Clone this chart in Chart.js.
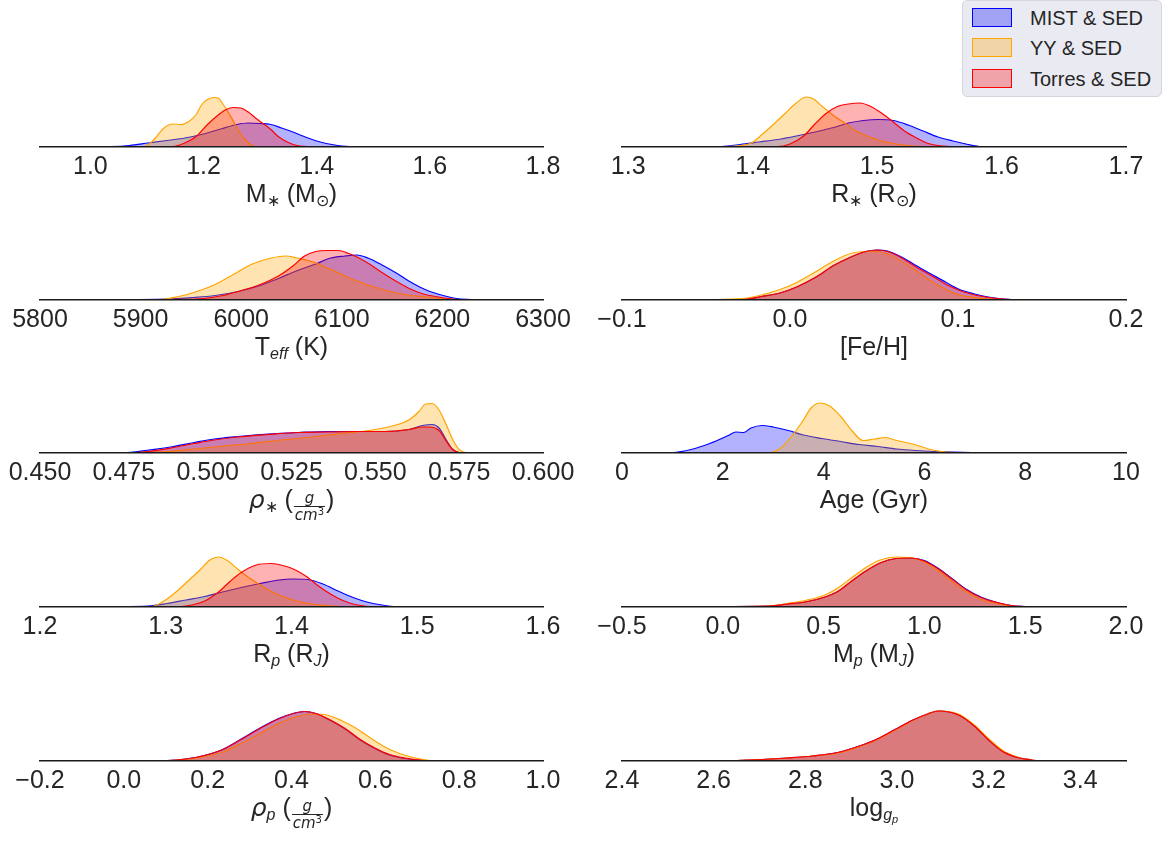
<!DOCTYPE html>
<html>
<head>
<meta charset="utf-8">
<script src="https://cdn.jsdelivr.net/npm/chart.js@4.4.1/dist/chart.umd.min.js"></script>
<style>
  body { margin: 0; background: #fff; width: 1163px; height: 842px; position: relative; overflow: hidden;
         font-family: "Liberation Sans", Arial, sans-serif; color: #262626; }
  canvas { position: absolute; }
  .title { position: absolute; width: 300px; text-align: center; font-size: 25px; line-height: 28px; white-space: nowrap; }
  .title sub { font-size: 16px; vertical-align: -4px; line-height: 0; }
  .mi { font-family: "DejaVu Sans", sans-serif; font-style: italic; }
  .frac { display: inline-block; vertical-align: -12px; text-align: center; font-family: "DejaVu Sans", sans-serif;
          font-style: italic; font-size: 15px; line-height: 16px; margin: 0 1px; }
  .frac span { display: block; padding: 0 1px; }
  .frac span.num { border-bottom: 1.5px solid #262626; }
  .frac sup { font-size: 10px; vertical-align: 5px; line-height: 0; font-style: normal; }
  #legend { position: absolute; left: 962px; top: 0px; width: 200px; height: 97px; background: #eaeaf2;
            border: 1px solid #d6d6de; border-radius: 5px; box-sizing: border-box; }
  .item { position: absolute; left: 9px; height: 20px; font-size: 20px; line-height: 20px; }
  .sw { position: absolute; left: 0; top: 0; width: 40px; height: 19px; box-sizing: border-box; }
  .item span.t { position: absolute; left: 58px; top: 0; white-space: nowrap; }
</style>
</head>
<body>
<div id="legend">
  <div class="item" style="top:7px"><div class="sw" style="background:rgba(0,0,255,0.3);border:1.5px solid blue"></div><span class="t">MIST &amp; SED</span></div>
  <div class="item" style="top:37px"><div class="sw" style="background:rgba(255,165,0,0.3);border:1.5px solid orange"></div><span class="t">YY &amp; SED</span></div>
  <div class="item" style="top:68px"><div class="sw" style="background:rgba(255,0,0,0.3);border:1.5px solid red"></div><span class="t">Torres &amp; SED</span></div>
</div>
<script>
// relative histogram heights (tallest peak of each panel = 100)
const mStarMist = [[0.917,0],[1.036,1],[1.069,3],[1.102,8],[1.135,13],[1.167,18],[1.2,26],[1.233,37],[1.259,45],[1.279,48],[1.299,47],[1.319,45],[1.338,38],[1.358,30],[1.378,21],[1.397,13],[1.417,7],[1.437,3],[1.456,1],[1.47,0],[1.596,0]];
const mStarYY = [[1.06,0],[1.094,1],[1.104,6],[1.115,18],[1.128,36],[1.138,44],[1.148,46],[1.161,45],[1.174,51],[1.187,65],[1.197,85],[1.207,95],[1.22,99],[1.227,97],[1.233,88],[1.243,71],[1.253,51],[1.263,31],[1.273,15],[1.286,3],[1.299,0],[1.36,0]];
const mStarTorres = [[1.031,0],[1.145,1],[1.167,8],[1.187,21],[1.207,45],[1.227,65],[1.24,75],[1.253,79],[1.266,78],[1.279,70],[1.292,58],[1.305,47],[1.319,35],[1.332,21],[1.348,10],[1.365,3],[1.384,1],[1.4,0],[1.524,0]];

const rStarMist = [[1.317,0],[1.36,0.3],[1.375,1],[1.39,5],[1.405,10],[1.42,15],[1.435,22],[1.45,30],[1.465,39],[1.477,48],[1.489,53],[1.501,55],[1.513,53],[1.525,44],[1.537,32],[1.549,20],[1.561,12],[1.573,5],[1.582,1],[1.59,0],[1.65,0]];
const rStarYY = [[1.37,0],[1.381,1],[1.39,3],[1.399,8],[1.408,26],[1.417,46],[1.426,67],[1.435,88],[1.443,100],[1.449,96],[1.456,81],[1.465,63],[1.474,48],[1.483,32],[1.492,22],[1.501,14],[1.513,7],[1.525,3],[1.537,1],[1.549,0],[1.6,0]];
const rStarTorres = [[1.36,0],[1.42,1],[1.429,5],[1.441,22],[1.45,46],[1.459,67],[1.468,81],[1.477,86],[1.486,88],[1.495,81],[1.504,67],[1.513,50],[1.522,32],[1.531,19],[1.54,8],[1.549,3],[1.558,1],[1.57,0],[1.62,0]];

const teffMist = [[5800,0],[5926,2],[5952,5],[5974,9],[5997,17],[6019,29],[6037,43],[6056,59],[6074,72],[6089,84],[6103,88],[6115,90],[6126,84],[6140,70],[6155,53],[6170,34],[6185,19],[6199,10],[6214,3],[6229,1],[6240,0],[6300,0]];
const teffYY = [[5800,0],[5919,1],[5938,7],[5956,17],[5974,31],[5993,52],[6011,72],[6030,84],[6044,88],[6056,84],[6067,79],[6081,68],[6096,55],[6111,41],[6129,28],[6148,17],[6166,10],[6185,6],[6203,2],[6220,0],[6300,0]];
const teffTorres = [[5800,0],[5930,1],[5963,3],[5982,9],[6000,19],[6019,31],[6037,48],[6052,69],[6063,88],[6074,97],[6085,99],[6096,99],[6107,93],[6118,83],[6129,70],[6140,55],[6151,41],[6166,24],[6181,12],[6196,6],[6210,2],[6225,0],[6300,0]];

const fehMist = [[-0.08,0],[-0.028,1],[-0.017,7],[-0.006,14],[0.004,26],[0.015,45],[0.026,69],[0.037,87],[0.045,97],[0.052,100],[0.058,98],[0.067,85],[0.075,69],[0.084,52],[0.093,35],[0.101,21],[0.11,12],[0.118,6],[0.127,2],[0.135,0],[0.2,0]];
const fehYY = [[-0.077,0],[-0.028,3],[-0.017,10],[-0.006,21],[0.004,35],[0.015,56],[0.026,78],[0.037,94],[0.045,97],[0.052,97],[0.058,92],[0.067,76],[0.075,59],[0.084,38],[0.093,21],[0.101,10],[0.11,5],[0.118,2],[0.127,0],[0.2,0]];
const fehTorres = [[-0.07,0],[-0.028,1],[-0.017,7],[-0.006,14],[0.004,26],[0.015,45],[0.026,69],[0.037,87],[0.045,97],[0.052,100],[0.058,97],[0.067,83],[0.075,66],[0.084,49],[0.093,31],[0.101,19],[0.11,10],[0.118,5],[0.127,2],[0.135,0],[0.2,0]];

const rhoStarMist = [[0.45,0],[0.475,0.5],[0.482,5.5],[0.489,12],[0.496,21],[0.502,28],[0.509,33],[0.518,38],[0.527,41],[0.536,43],[0.544,43],[0.553,43],[0.56,47],[0.564,55],[0.567,57],[0.569,50],[0.571,28],[0.573,8],[0.575,1],[0.577,0],[0.582,0]];
const rhoStarYY = [[0.47,0],[0.48,1],[0.488,3],[0.496,8],[0.505,14],[0.513,19],[0.522,26],[0.531,32],[0.54,39],[0.549,46],[0.555,54],[0.56,66],[0.563,83],[0.565,98],[0.567,99],[0.569,86],[0.571,59],[0.573,28],[0.575,7],[0.578,0],[0.58,0]];
const rhoStarTorres = [[0.45,0],[0.476,0.5],[0.482,3],[0.489,10],[0.496,19],[0.502,26],[0.509,32],[0.518,37],[0.527,41],[0.536,42],[0.544,43],[0.553,43],[0.56,47],[0.564,52],[0.566,52],[0.569,45],[0.571,25],[0.573,7],[0.575,1],[0.577,0],[0.582,0]];

const ageMist = [[0.37,0],[1.0,1],[1.37,7],[1.74,19],[2.11,35],[2.26,42],[2.41,41],[2.56,50],[2.78,55],[3.0,52],[3.3,45],[3.6,36],[3.97,29],[4.34,23],[4.71,17],[5.08,13],[5.45,8],[5.82,5],[6.19,3],[6.57,2],[6.94,1],[7.3,0],[10,0]];
const ageYY = [[1.97,0],[2.93,1],[3.15,10],[3.38,35],[3.6,66],[3.75,90],[3.93,100],[4.12,94],[4.34,73],[4.56,45],[4.78,25],[5.01,28],[5.23,31],[5.45,25],[5.68,20],[5.9,14],[6.12,7],[6.34,3],[6.57,1],[6.8,0],[8.7,0]];

const rpMist = [[1.223,0],[1.286,2],[1.301,7],[1.316,14],[1.331,21],[1.345,30],[1.36,39],[1.375,47],[1.39,54],[1.401,56],[1.413,55],[1.425,46],[1.437,32],[1.449,19],[1.46,10],[1.472,4],[1.481,1],[1.49,0],[1.549,0]];
const rpYY = [[1.26,0],[1.288,1],[1.292,3],[1.301,16],[1.31,34],[1.319,55],[1.328,76],[1.335,94],[1.342,100],[1.35,91],[1.357,76],[1.366,59],[1.375,44],[1.384,31],[1.393,21],[1.404,12],[1.416,6],[1.428,3],[1.44,1],[1.45,0],[1.52,0]];
const rpTorres = [[1.261,0],[1.305,0.5],[1.316,2],[1.331,12],[1.342,30],[1.351,51],[1.36,69],[1.372,84],[1.384,87],[1.396,81],[1.404,73],[1.413,59],[1.422,41],[1.431,26],[1.44,14],[1.449,6],[1.458,2],[1.467,0],[1.524,0]];

const mpMist = [[-0.5,0],[0.23,2],[0.32,6],[0.41,10],[0.5,19],[0.57,31],[0.64,52],[0.71,72],[0.78,88],[0.86,97],[0.93,98],[1.0,93],[1.07,77],[1.14,56],[1.21,35],[1.28,20],[1.36,9],[1.43,3],[1.5,1],[1.55,0],[2.0,0]];
const mpYY = [[-0.5,0],[0.23,2],[0.32,7],[0.41,13],[0.5,23],[0.57,38],[0.64,59],[0.71,79],[0.78,94],[0.86,100],[0.93,99],[1.0,90],[1.07,72],[1.14,50],[1.21,30],[1.28,15],[1.36,7],[1.43,2],[1.5,0],[2.0,0]];
const mpTorres = [[-0.5,0],[0.23,2],[0.32,6],[0.41,10],[0.5,19],[0.57,31],[0.64,52],[0.71,72],[0.78,88],[0.86,97],[0.93,98],[1.0,92],[1.07,76],[1.14,55],[1.21,34],[1.28,19],[1.36,9],[1.43,3],[1.5,1],[1.55,0],[2.0,0]];

const rhoPMist = [[-0.2,0],[0.104,1],[0.148,4],[0.192,11],[0.236,23],[0.28,44],[0.325,66],[0.369,85],[0.404,95],[0.431,99],[0.458,95],[0.493,81],[0.528,64],[0.564,42],[0.599,25],[0.634,12],[0.67,5],[0.705,2],[0.74,0],[1.0,0]];
const rhoPYY = [[-0.2,0],[0.104,1],[0.148,3],[0.192,9],[0.236,18],[0.28,35],[0.325,55],[0.369,75],[0.413,89],[0.449,94],[0.484,92],[0.519,81],[0.555,65],[0.59,45],[0.625,27],[0.661,14],[0.696,6],[0.731,1],[0.76,0],[1.0,0]];
const rhoPTorres = [[-0.2,0],[0.104,1],[0.148,4],[0.192,11],[0.236,23],[0.28,43],[0.325,65],[0.369,84],[0.404,95],[0.431,99],[0.458,95],[0.493,82],[0.528,65],[0.564,43],[0.599,26],[0.634,13],[0.67,6],[0.705,2],[0.74,0],[1.0,0]];

const loggMist = [[2.4,0],[2.6,0.5],[2.651,1],[2.706,3],[2.761,6],[2.816,10],[2.871,17],[2.918,30],[2.957,44],[2.996,63],[3.035,82],[3.067,94],[3.09,100],[3.114,98],[3.137,91],[3.169,70],[3.2,42],[3.231,19],[3.263,7],[3.294,2],[3.31,0],[3.5,0]];
const loggYY = [[2.4,0],[2.6,0.5],[2.651,1],[2.706,3],[2.761,6],[2.816,10],[2.871,16],[2.918,29],[2.957,43],[2.996,62],[3.035,81],[3.067,94],[3.09,100],[3.114,99],[3.137,93],[3.169,72],[3.2,45],[3.231,21],[3.263,8],[3.294,2],[3.315,0],[3.5,0]];
const loggTorres = [[2.4,0],[2.6,0.5],[2.651,1],[2.706,3],[2.761,6],[2.816,10],[2.871,17],[2.918,30],[2.957,44],[2.996,63],[3.035,82],[3.067,94],[3.09,100],[3.114,98],[3.137,91],[3.169,70],[3.2,42],[3.231,19],[3.263,7],[3.294,2],[3.31,0],[3.5,0]];

// tick labels
const mStarTicks = [1.0, 1.2, 1.4, 1.6, 1.8];
const rStarTicks = [1.3, 1.4, 1.5, 1.6, 1.7];
const teffTicks = [5800, 5900, 6000, 6100, 6200, 6300];
const fehTicks = [-0.1, 0.0, 0.1, 0.2];
const rhoStarTicks = [0.450, 0.475, 0.500, 0.525, 0.550, 0.575, 0.600];
const ageTicks = [0, 2, 4, 6, 8, 10];
const rpTicks = [1.2, 1.3, 1.4, 1.5, 1.6];
const mpTicks = [-0.5, 0.0, 0.5, 1.0, 1.5, 2.0];
const rhoPTicks = [-0.2, 0.0, 0.2, 0.4, 0.6, 0.8, 1.0];
const loggTicks = [2.4, 2.6, 2.8, 3.0, 3.2, 3.4];

const seriesNames = ['MIST & SED', 'YY & SED', 'Torres & SED'];
const lineColors = ['blue', 'orange', 'red'];
const fillColors = ['rgba(0,0,255,0.3)', 'rgba(255,165,0,0.3)', 'rgba(255,0,0,0.3)'];

const frac = '<span class="frac"><span class="num">g</span><span>cm<sup>3</sup></span></span>';
const panels = [
  { min: 0.911, max: 1.8, ticks: mStarTicks, dec: 1, series: [mStarMist, mStarYY, mStarTorres], title: 'M<sub>∗</sub> (M<sub>⊙</sub>)' },
  { min: 1.295, max: 1.7, ticks: rStarTicks, dec: 1, series: [rStarMist, rStarYY, rStarTorres], title: 'R<sub>∗</sub> (R<sub>⊙</sub>)' },
  { min: 5800, max: 6300, ticks: teffTicks, dec: 0, series: [teffMist, teffYY, teffTorres], title: 'T<sub><i>eff</i></sub> (K)' },
  { min: -0.1, max: 0.2, ticks: fehTicks, dec: 1, series: [fehMist, fehYY, fehTorres], title: '[Fe/H]' },
  { min: 0.45, max: 0.6, ticks: rhoStarTicks, dec: 3, series: [rhoStarMist, rhoStarYY, rhoStarTorres], title: '<span class="mi">ρ</span><sub>∗</sub> (' + frac + ')' },
  { min: 0, max: 10, ticks: ageTicks, dec: 0, series: [ageMist, ageYY], title: 'Age (Gyr)' },
  { min: 1.2, max: 1.6, ticks: rpTicks, dec: 1, series: [rpMist, rpYY, rpTorres], title: 'R<sub><i>p</i></sub> (R<sub><i>J</i></sub>)' },
  { min: -0.5, max: 2.0, ticks: mpTicks, dec: 1, series: [mpMist, mpYY, mpTorres], title: 'M<sub><i>p</i></sub> (M<sub><i>J</i></sub>)' },
  { min: -0.2, max: 1.0, ticks: rhoPTicks, dec: 1, series: [rhoPMist, rhoPYY, rhoPTorres], title: '<span class="mi">ρ</span><sub><i>p</i></sub> (' + frac + ')' },
  { min: 2.4, max: 3.5, ticks: loggTicks, dec: 1, series: [loggMist, loggYY, loggTorres], title: 'log<sub><i>g<sub style="font-size:11px;vertical-align:-3px">p</sub></i></sub>' }
];

const baselines = [146, 299, 452, 606, 760];
const plotH = 56;

panels.forEach((p, i) => {
  const row = Math.floor(i / 2), col = i % 2;
  const base = baselines[row];
  const canvas = document.createElement('canvas');
  const w = col === 0 ? 583 : 581;
  const h = 97;
  canvas.width = w; canvas.height = h;
  canvas.style.left = (col === 0 ? 0 : 582) + 'px';
  canvas.style.top = (base - plotH) + 'px';
  canvas.style.width = w + 'px'; canvas.style.height = h + 'px';
  document.body.appendChild(canvas);

  const title = document.createElement('div');
  title.className = 'title';
  title.innerHTML = p.title;
  const cx = col === 0 ? 291.5 : 874;
  title.style.left = (cx - 150) + 'px';
  title.style.top = (base + 33) + 'px';
  document.body.appendChild(title);

  const datasets = p.series.map((s, k) => ({
    label: seriesNames[k],
    data: s.map(d => ({ x: d[0], y: d[1] })),
    borderColor: lineColors[k],
    backgroundColor: fillColors[k],
    borderWidth: 1.2,
    fill: 'origin',
    pointRadius: 0,
    cubicInterpolationMode: 'monotone',
    order: 3 - k
  }));

  new Chart(canvas.getContext('2d'), {
    type: 'line',
    data: { datasets },
    options: {
      responsive: false,
      animation: false,
      events: [],
      layout: { padding: { left: 40, right: col === 0 ? 40 : 37, top: 0, bottom: 0 } },
      plugins: { legend: { display: false }, tooltip: { enabled: false } },
      scales: {
        x: {
          type: 'linear',
          min: p.min, max: p.max,
          afterBuildTicks: ax => { ax.ticks = p.ticks.map(v => ({ value: v })); },
          ticks: {
            autoSkip: false, maxRotation: 0, padding: 5,
            color: '#262626',
            font: { family: '"Liberation Sans", Arial, sans-serif', size: 25 },
            callback: v => Number(v).toFixed(p.dec).replace('-', '\u2212')
          },
          grid: { display: false, drawTicks: false },
          border: { display: true, color: '#1a1a1a', width: 1.6, z: 1 }
        },
        y: { display: false, min: 0, max: 114 }
      }
    }
  });
});
</script>
</body>
</html>
